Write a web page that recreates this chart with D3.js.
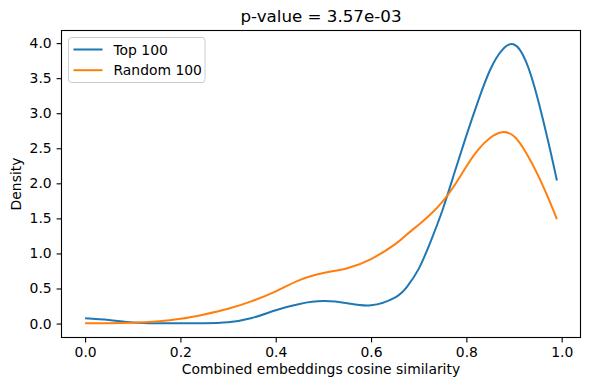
<!DOCTYPE html>
<html>
<head>
<meta charset="utf-8">
<script src="https://cdn.jsdelivr.net/npm/d3@7"></script>
<style>
  body { margin: 0; background: white; }
  text { font-family: "DejaVu Sans", sans-serif; fill: #000; }
</style>
</head>
<body>
<svg id="canvas" width="590" height="390"></svg>
<script>
// ---- data ----
var xs_top = [0.00, 0.05, 0.10, 0.15, 0.20, 0.25, 0.30, 0.35, 0.40, 0.45, 0.50, 0.55, 0.60, 0.65,
              0.675, 0.70, 0.725, 0.75, 0.775, 0.80, 0.825, 0.85, 0.875, 0.90, 0.925, 0.95, 0.975, 0.99];
var top100 = [0.075, 0.05, 0.015, 0.004, 0.004, 0.006, 0.02, 0.08, 0.19, 0.28, 0.32, 0.29, 0.26, 0.37,
              0.52, 0.78, 1.17, 1.62, 2.15, 2.68, 3.18, 3.62, 3.90, 3.98, 3.74, 3.20, 2.50, 2.04];

var xs_rand = [0.00, 0.05, 0.10, 0.15, 0.20, 0.25, 0.30, 0.35, 0.40, 0.45, 0.50, 0.55, 0.60, 0.65,
               0.675, 0.70, 0.725, 0.75, 0.775, 0.80, 0.825, 0.85, 0.875, 0.90, 0.925, 0.95, 0.975, 0.99];
var random100 = [0.003, 0.003, 0.01, 0.03, 0.067, 0.13, 0.21, 0.32, 0.46, 0.62, 0.72, 0.79, 0.92, 1.13,
                 1.27, 1.41, 1.56, 1.74, 1.97, 2.24, 2.48, 2.65, 2.73, 2.67, 2.44, 2.12, 1.74, 1.49];

var x_ticks = [0.0, 0.2, 0.4, 0.6, 0.8, 1.0];
var y_ticks = [0.0, 0.5, 1.0, 1.5, 2.0, 2.5, 3.0, 3.5, 4.0];
var series_names = ['Top 100', 'Random 100'];
var colors = ['#1f77b4', '#ff7f0e'];

// ---- layout ----
var ax_left = 61.5, ax_right = 580.5, ax_top = 30.5, ax_bottom = 337.5;
var font_size = '13.9px';

var svg = d3.select('#canvas');
var x = d3.scaleLinear().domain([-0.0495, 1.0395]).range([ax_left, ax_right]);
var y = d3.scaleLinear().domain([-0.199, 4.18]).range([ax_bottom, ax_top]);

// axes
var xAxis = svg.append('g').attr('transform', 'translate(0,' + ax_bottom + ')')
  .call(d3.axisBottom(x).tickValues(x_ticks).tickFormat(d3.format('.1f')).tickSize(4.9).tickPadding(4.9));
var yAxis = svg.append('g').attr('transform', 'translate(' + ax_left + ',0)')
  .call(d3.axisLeft(y).tickValues(y_ticks).tickFormat(d3.format('.1f')).tickSize(4.9).tickPadding(4.9));

[xAxis, yAxis].forEach(function(a){
  a.select('.domain').remove();
  a.selectAll('line').attr('stroke', '#000').attr('stroke-width', 1.1);
  a.selectAll('text').style('font-size', font_size).style('font-family', '"DejaVu Sans", sans-serif');
});

// curves
var line = d3.line()
  .x(function(d){ return x(d[0]); })
  .y(function(d){ return y(d[1]); })
  .curve(d3.curveNatural);

var data = [ d3.zip(xs_top, top100), d3.zip(xs_rand, random100) ];
data.forEach(function(pts, i){
  svg.append('path').datum(pts)
    .attr('d', line)
    .attr('fill', 'none')
    .attr('stroke', colors[i])
    .attr('stroke-width', 2);
});

// frame
svg.append('rect').attr('x', ax_left).attr('y', ax_top).attr('width', ax_right - ax_left).attr('height', ax_bottom - ax_top)
  .attr('fill', 'none').attr('stroke', '#000').attr('stroke-width', 1.1);

// title and labels
svg.append('text').attr('x', (ax_left + ax_right) / 2).attr('y', 21.5).attr('text-anchor', 'middle')
  .style('font-size', '16.7px').text('p-value = 3.57e-03');
svg.append('text').attr('x', (ax_left + ax_right) / 2).attr('y', 373.5).attr('text-anchor', 'middle')
  .style('font-size', font_size).text('Combined embeddings cosine similarity');
svg.append('text').attr('transform', 'translate(21,' + ((ax_top + ax_bottom) / 2) + ') rotate(-90)')
  .attr('text-anchor', 'middle').style('font-size', font_size).text('Density');

// legend
var legend = svg.append('g').attr('transform', 'translate(68.5,37.5)');
legend.append('rect').attr('x', 0).attr('y', 0).attr('width', 136.5).attr('height', 45).attr('rx', 3)
  .attr('fill', 'white').attr('fill-opacity', 0.8).attr('stroke', '#cccccc').attr('stroke-width', 1);
series_names.forEach(function(name, i){
  var yy = 12 + i * 20.7;
  legend.append('line').attr('x1', 5).attr('x2', 34).attr('y1', yy).attr('y2', yy)
    .attr('stroke', colors[i]).attr('stroke-width', 2);
  legend.append('text').attr('x', 45).attr('y', yy + 5).style('font-size', font_size).text(name);
});
</script>
</body>
</html>
